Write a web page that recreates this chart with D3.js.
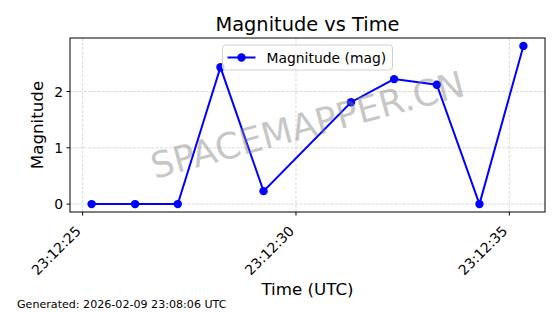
<!DOCTYPE html>
<html>
<head>
<meta charset="utf-8">
<script src="https://cdn.jsdelivr.net/npm/d3@7"></script>
<style>
  body { margin: 0; background: #fff; }
  svg { display: block; font-family: "DejaVu Sans", sans-serif; }
</style>
</head>
<body>
<svg id="chart" width="560" height="314"></svg>
<script>
// sample times (seconds after 23:12:00 UTC, 2026-02-09) and magnitudes
const seconds = [25.21, 26.23, 27.23, 28.23, 29.24, 31.29, 32.30, 33.30, 34.30, 35.33];
const magnitudes = [0, 0, 0, 2.43, 0.23, 1.81, 2.22, 2.12, 0, 2.81];
const xTickSeconds = [25, 30, 35];
const yTicks = [0, 1, 2];

const base = Date.UTC(2026, 1, 9, 23, 12, 0);
const toDate = s => new Date(base + s * 1000);
const data = seconds.map((s, i) => ({ t: toDate(s), v: magnitudes[i] }));

const W = 560, H = 314;
const m = { left: 70, right: 15, top: 38, bottom: 102 };
const pw = W - m.left - m.right, ph = H - m.top - m.bottom;

const svg = d3.select('#chart');

// matplotlib style 5% margins
let [t0, t1] = d3.extent(data, d => +d.t), tpad = (t1 - t0) * 0.05;
let vmax = d3.max(data, d => d.v), vmin = d3.min(data, d => d.v), vpad = (vmax - vmin) * 0.05;

const x = d3.scaleUtc().domain([t0 - tpad, t1 + tpad]).range([m.left, m.left + pw]);
const y = d3.scaleLinear().domain([vmin - vpad, vmax + vpad]).range([m.top + ph, m.top]);

const g = svg.append('g');

// grid
g.selectAll('.gx').data(xTickSeconds).enter().append('line')
  .attr('x1', d => x(toDate(d))).attr('x2', d => x(toDate(d)))
  .attr('y1', m.top).attr('y2', m.top + ph)
  .attr('stroke', '#b0b0b0').attr('stroke-opacity', 0.6).attr('stroke-width', 0.8)
  .attr('stroke-dasharray', '3,1.5');
g.selectAll('.gy').data(yTicks).enter().append('line')
  .attr('x1', m.left).attr('x2', m.left + pw)
  .attr('y1', d => y(d)).attr('y2', d => y(d))
  .attr('stroke', '#b0b0b0').attr('stroke-opacity', 0.6).attr('stroke-width', 0.8)
  .attr('stroke-dasharray', '3,1.5');

// watermark
svg.append('text')
  .attr('transform', `translate(${m.left + pw / 2},${m.top + ph / 2}) rotate(-15)`)
  .attr('text-anchor', 'middle').attr('dominant-baseline', 'central')
  .attr('font-size', 36).attr('fill', '#808080').attr('fill-opacity', 0.45)
  .text('SPACEMAPPER.CN');

// line + markers
const line = d3.line().x(d => x(d.t)).y(d => y(d.v));
g.append('path').datum(data).attr('d', line)
  .attr('fill', 'none').attr('stroke', '#0000ff').attr('stroke-width', 2);
g.selectAll('.pt').data(data).enter().append('circle')
  .attr('cx', d => x(d.t)).attr('cy', d => y(d.v)).attr('r', 4.2)
  .attr('fill', '#0000ff');

// axes frame
svg.append('rect').attr('x', m.left).attr('y', m.top).attr('width', pw).attr('height', ph)
  .attr('fill', 'none').attr('stroke', '#000').attr('stroke-width', 1);

// x axis ticks
const xa = svg.append('g');
xa.selectAll('line').data(xTickSeconds).enter().append('line')
  .attr('x1', d => x(toDate(d))).attr('x2', d => x(toDate(d)))
  .attr('y1', m.top + ph).attr('y2', m.top + ph + 3.5).attr('stroke', '#000');
const fmt = d3.utcFormat('%H:%M:%S');
xa.selectAll('text').data(xTickSeconds).enter().append('text')
  .attr('transform', d => `translate(${x(toDate(d)) - 1},${m.top + ph + 20}) rotate(-45)`)
  .attr('text-anchor', 'end').attr('font-size', 13.9)
  .text(d => fmt(toDate(d)));

// y axis ticks
const ya = svg.append('g');
ya.selectAll('line').data(yTicks).enter().append('line')
  .attr('x1', m.left - 3.5).attr('x2', m.left)
  .attr('y1', d => y(d)).attr('y2', d => y(d)).attr('stroke', '#000');
ya.selectAll('text').data(yTicks).enter().append('text')
  .attr('x', m.left - 7).attr('y', d => y(d)).attr('dy', '0.36em')
  .attr('text-anchor', 'end').attr('font-size', 13.9)
  .text(d => d);

// title & labels
svg.append('text').attr('x', m.left + pw / 2).attr('y', 31)
  .attr('text-anchor', 'middle').attr('font-size', 19.4).text('Magnitude vs Time');
svg.append('text').attr('x', m.left + pw / 2).attr('y', 295)
  .attr('text-anchor', 'middle').attr('font-size', 16.7).text('Time (UTC)');
svg.append('text').attr('transform', `translate(43,${m.top + ph / 2}) rotate(-90)`)
  .attr('text-anchor', 'middle').attr('font-size', 16.7).text('Magnitude');
svg.append('text').attr('x', 17).attr('y', 308)
  .attr('font-size', 11.1).text('Generated: 2026-02-09 23:08:06 UTC');

// legend
const lg = svg.append('g').attr('transform', `translate(${m.left + pw / 2 - 85},45)`);
lg.append('rect').attr('width', 170).attr('height', 25).attr('rx', 3)
  .attr('fill', '#fff').attr('fill-opacity', 0.8).attr('stroke', '#d0d0d0');
lg.append('line').attr('x1', 5).attr('x2', 33).attr('y1', 12.5).attr('y2', 12.5)
  .attr('stroke', '#0000ff').attr('stroke-width', 2);
lg.append('circle').attr('cx', 19).attr('cy', 12.5).attr('r', 4.2).attr('fill', '#0000ff');
lg.append('text').attr('x', 44).attr('y', 12.5).attr('dy', '0.36em')
  .attr('font-size', 13.9).text('Magnitude (mag)');
</script>
</body>
</html>
